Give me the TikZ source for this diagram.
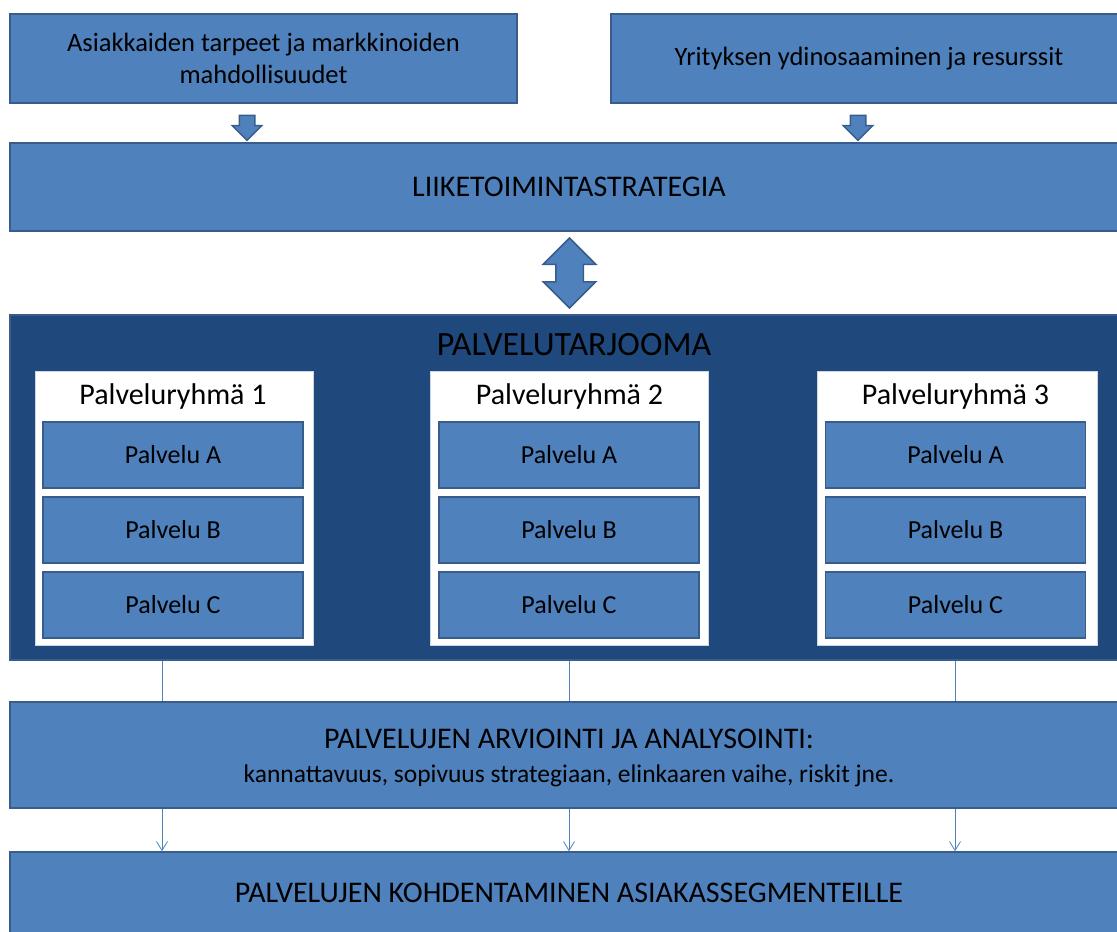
\documentclass[tikz,border=0pt]{standalone}
\usepackage{fontspec}
\setmainfont{Carlito}
\usetikzlibrary{%
  arrows.meta,%
  shapes,%
  shapes.arrows,%
  positioning,%
  calc%
}
\definecolor{midblue}{HTML}{4F81BD}
\definecolor{edgeblue}{HTML}{385D8A}
\definecolor{deepblue}{HTML}{1F497D}

\begin{document}
\begin{tikzpicture}
[x=1pt, y=-1pt, line width=1.5pt,
box/.style={rectangle, draw=edgeblue, fill=midblue, inner sep=0pt, align=center, font=\fontsize{26.5}{32}\selectfont},
widebox/.style={box, minimum width=1118pt, font=\fontsize{30}{36}\selectfont},
group/.style={rectangle, draw=edgeblue!25, line width=1pt, fill=white, inner sep=0pt, minimum width=278pt, minimum height=274pt},
service/.style={box, minimum width=260pt, minimum height=66pt, font=\fontsize{26}{31}\selectfont},
blockdown/.style={single arrow, draw=edgeblue, fill=midblue, inner xsep=7pt, inner ysep=0pt, minimum width=28pt, minimum height=25pt, single arrow head extend=7pt, shape border rotate=270},
link/.style={draw=midblue, line width=0.8pt},
linkarrow/.style={link, -{Straight Barb[length=9pt, width=11pt]}}]

\clip (0,0) rectangle (1117,932);

\node[box, minimum width=507pt, minimum height=89pt] (need) at (263.5,58.5) {Asiakkaiden tarpeet ja markkinoiden\\mahdollisuudet};
\node[box, minimum width=516pt, minimum height=89pt] (res) at (869,58.5) {Yrityksen ydinosaaminen ja resurssit};

\node[blockdown] (arr1) at (247,124) {};
\node[blockdown] (arr2) at (858,124) {};

\node[widebox, minimum height=88pt] (strat) at (569,187) {LIIKETOIMINTASTRATEGIA};

\node[double arrow, draw=edgeblue, fill=midblue, inner xsep=13pt, inner ysep=0pt, minimum width=51pt, minimum height=70pt, double arrow head extend=12.5pt, shape border rotate=90] (swap) at (569.5,273) {};

\node[rectangle, draw=edgeblue, fill=deepblue, minimum width=1118pt, minimum height=345pt] (offer) at (569,487.5) {};
\node[font=\fontsize{34}{40}\selectfont] (offertitle) at (574,345) {PALVELUTARJOOMA};

\node[group] (g1) at (174,508) {};
\node[group] (g2) at (569.5,508) {};
\node[group, minimum width=280pt] (g3) at (957,508) {};

\node[font=\fontsize{30}{36}\selectfont] (t1) at (173,396) {Palveluryhmä 1};
\node[font=\fontsize{30}{36}\selectfont] (t2) at (569.5,396) {Palveluryhmä 2};
\node[font=\fontsize{30}{36}\selectfont] (t3) at (955.5,396) {Palveluryhmä 3};

\foreach \g/\x in {1/173, 2/569, 3/955.5} {
  \node[service] (s\g a) at (\x,455) {Palvelu A};
  \node[service] (s\g b) at (\x,530) {Palvelu B};
  \node[service] (s\g c) at (\x,605) {Palvelu C};
}

\node[widebox, minimum height=106pt] (eval) at (569,755) {};
\node[align=center, font=\fontsize{30}{36}\selectfont] (evaltext) at (569,758) {PALVELUJEN ARVIOINTI JA ANALYSOINTI:\\[-2pt]{\fontsize{25.5}{30}\selectfont kannattavuus, sopivuus strategiaan, elinkaaren vaihe, riskit jne.}};

\node[widebox, minimum height=82pt] (target) at (569,893) {PALVELUJEN KOHDENTAMINEN ASIAKASSEGMENTEILLE};

\coordinate (c1) at (162,0);
\coordinate (c2) at (569,0);
\coordinate (c3) at (955,0);

\foreach \c in {c1,c2,c3} {
  \draw[link] (offer.south -| \c) -- (eval.north -| \c);
  \draw[linkarrow] (eval.south -| \c) -- (target.north -| \c);
}
\end{tikzpicture}
\end{document}
